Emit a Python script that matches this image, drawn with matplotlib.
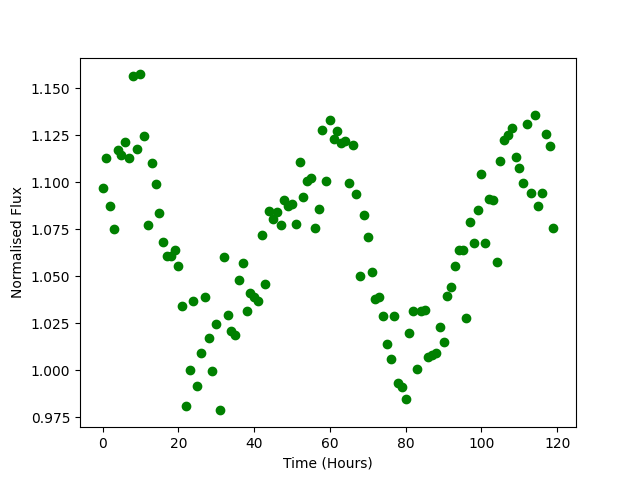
import numpy as np
import matplotlib
matplotlib.use("Agg")
import matplotlib.pyplot as plt

hours = np.arange(120)

flux = [
    1.0967, 1.1126, 1.0872, 1.0750, 1.1170, 1.1147, 1.1216, 1.1126, 1.1562, 1.1174,
    1.1573, 1.1243, 1.0771, 1.1100, 1.0993, 1.0834, 1.0682, 1.0606, 1.0606, 1.0638,
    1.0552, 1.0344, 0.9809, 1.0004, 1.0367, 0.9915, 1.0094, 1.0392, 1.0170, 0.9998,
    1.0248, 0.9787, 1.0600, 1.0296, 1.0207, 1.0190, 1.0482, 1.0568, 1.0318, 1.0413,
    1.0390, 1.0371, 1.0717, 1.0461, 1.0846, 1.0802, 1.0839, 1.0775, 1.0904, 1.0872,
    1.0883, 1.0780, 1.1105, 1.0919, 1.1007, 1.1020, 1.0754, 1.0860, 1.1275, 1.1004,
    1.1328, 1.1232, 1.1270, 1.1206, 1.1218, 1.0998, 1.1200, 1.0935, 1.0504, 1.0828,
    1.0711, 1.0525, 1.0381, 1.0388, 1.0291, 1.0142, 1.0062, 1.0287, 0.9931, 0.9911,
    0.9850, 1.0197, 1.0318, 1.0009, 1.0318, 1.0323, 1.0071, 1.0082, 1.0092, 1.0232,
    1.0153, 1.0397, 1.0445, 1.0552, 1.0637, 1.0642, 1.0280, 1.0786, 1.0679, 1.0850,
    1.1046, 1.0679, 1.0913, 1.0904, 1.0578, 1.1115, 1.1222, 1.1250, 1.1286, 1.1133,
    1.1078, 1.0998, 1.1312, 1.0940, 1.1356, 1.0876, 1.0940, 1.1254, 1.1190, 1.0759,
]

plt.figure(figsize=(6.4, 4.8), dpi=100)
plt.plot(hours, flux, "o", color="g")
plt.xlabel("Time (Hours)")
plt.ylabel("Normalised Flux")
plt.savefig("out.png")
